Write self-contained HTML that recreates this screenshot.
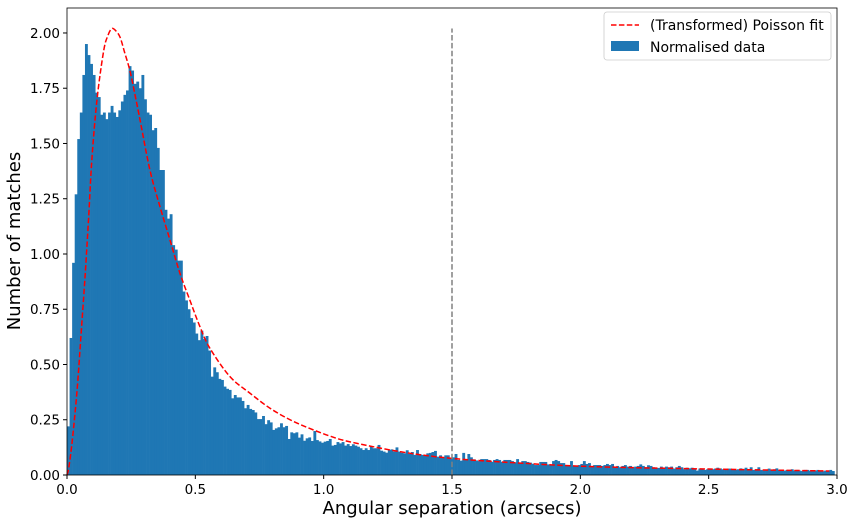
<!DOCTYPE html>
<html><head><meta charset="utf-8">
<style>
body{margin:0;background:#fff;}
svg text{font-family:"DejaVu Sans","Liberation Sans",sans-serif;fill:#000;}
</style></head>
<body>
<svg id="chart" width="856" height="525" xmlns="http://www.w3.org/2000/svg">
<g id="bars"></g>
<path id="fit" fill="none" stroke="#ff0000" stroke-width="1.5" stroke-dasharray="5.5,2.4"></path>
<line id="vline" stroke="#808080" stroke-width="1.5" stroke-dasharray="5.5,2.4"></line>
<rect x="67" y="8" width="770" height="467" fill="none" stroke="#000" stroke-width="0.8"></rect>
<g id="xticks"></g>
<g id="yticks"></g>
<text x="452" y="514" font-size="18" text-anchor="middle">Angular separation (arcsecs)</text>
<text transform="translate(20,241) rotate(-90)" font-size="18" text-anchor="middle">Number of matches</text>
<g>
<rect x="604" y="12" width="227" height="48" rx="3" fill="#fff" stroke="#ccc" stroke-width="0.8"></rect>
<line x1="611" y1="25" x2="639" y2="25" stroke="#ff0000" stroke-width="1.5" stroke-dasharray="5.5,2.4"></line>
<text x="650" y="30" font-size="14">(Transformed) Poisson fit</text>
<rect x="611" y="41" width="28" height="10" fill="#1f77b4"></rect>
<text x="650" y="52" font-size="14">Normalised data</text>
</g>
</svg>
<script>
const binWidth = 0.01;
const counts = [
0.22,0.62,0.96,1.27,1.52,1.64,1.81,1.95,1.90,1.86,1.81,1.73,1.71,1.63,1.64,1.61,1.64,1.67,1.64,1.62,
1.65,1.69,1.72,1.74,1.85,1.83,1.77,1.78,1.75,1.81,1.70,1.64,1.63,1.56,1.57,1.48,1.38,1.38,1.20,1.16,
1.18,1.04,1.02,0.97,0.97,0.83,0.79,0.75,0.71,0.69,0.64,0.61,
0.653,0.615,0.629,0.563,0.445,0.487,0.465,0.435,0.43,0.40,0.39,0.385,0.347,0.362,0.351,0.351,0.335,0.302,0.317,0.299,
0.294,0.283,0.253,0.253,0.267,0.230,0.248,0.238,0.204,0.211,0.216,0.234,0.216,0.222,0.163,0.193,0.189,0.193,0.169,0.184,
0.155,0.166,0.170,0.154,0.199,0.158,0.152,0.146,0.151,0.154,0.163,0.133,0.136,0.149,0.143,0.149,0.133,0.140,
0.131,0.139,0.133,0.128,0.121,0.113,0.121,0.113,0.131,0.121,0.121,0.136,0.110,0.106,0.101,0.113,0.116,0.106,0.125,0.106,
0.101,0.098,0.112,0.095,0.104,0.091,0.113,0.095,0.091,0.089,0.098,0.100,0.104,0.109,0.083,0.089,0.078,0.089,0.089,0.075,
0.080,0.095,0.068,0.065,0.100,0.068,0.095,0.080,0.071,0.066,0.063,0.072,0.072,0.072,0.068,0.060,0.068,0.072,0.068,0.060,
0.068,0.068,0.068,0.063,0.057,0.072,0.056,0.063,0.063,0.059,0.056,0.051,0.045,0.045,0.059,0.059,0.059,0.048,0.045,0.063,
0.068,0.063,0.054,0.054,0.045,0.041,0.063,0.041,0.041,0.045,0.050,0.063,0.050,0.054,0.041,0.045,0.045,
0.045,0.041,0.045,0.050,0.045,0.050,0.038,0.041,0.035,0.041,0.045,0.038,0.041,0.035,0.038,0.041,0.048,0.041,0.035,0.044,
0.041,0.035,0.030,0.032,0.038,0.030,0.038,0.035,0.038,0.029,0.035,0.041,0.035,0.026,0.033,0.030,0.033,0.026,0.020,0.029,
0.029,0.023,0.026,0.029,0.026,0.029,0.033,0.030,0.026,0.023,0.029,0.029,0.023,0.023,0.026,0.030,0.026,0.033,0.026,0.035,
0.023,0.026,0.035,0.023,0.020,0.023,0.029,0.023,0.026,0.030,0.023,0.023,0.020,0.023,0.020,0.026,0.020,0.023,0.020,0.018,
0.023,0.023,0.020,0.017,0.020,0.023,0.020,0.017,0.020,0.018,0.023,0.018
];
const fitX = [0,0.0065,0.02,0.039,0.055,0.071,0.085,0.097,0.117,0.143,0.16,0.175,0.19,0.207,0.225,0.245,0.265,0.284,0.323,0.362,0.401,0.440,0.479,0.518,0.557,0.635,0.713,0.791,0.869,0.947,1.025,1.103,1.3,1.5,1.75,2.045,2.5,2.97];
const fitY = [0,0.03,0.15,0.38,0.64,0.91,1.18,1.43,1.70,1.92,1.99,2.02,2.01,1.98,1.91,1.83,1.72,1.61,1.38,1.215,1.064,0.913,0.79,0.671,0.573,0.445,0.370,0.302,0.25,0.21,0.176,0.15,0.105,0.075,0.055,0.038,0.027,0.018];
const xTicks = [0,0.5,1.0,1.5,2.0,2.5,3.0];
const xTickLabels = ["0.0","0.5","1.0","1.5","2.0","2.5","3.0"];
const yTicks = [0,0.25,0.5,0.75,1.0,1.25,1.5,1.75,2.0];
const yTickLabels = ["0.00","0.25","0.50","0.75","1.00","1.25","1.50","1.75","2.00"];
const threshold = 1.5;
const thresholdTop = 2.02;

const NS = "http://www.w3.org/2000/svg";
const X0=67,X1=837,Y0=475,YT=8,XMAX=3.0,YMAX=2.113;
function sx(v){return X0+(v/XMAX)*(X1-X0);}
function sy(v){return Y0-(v/YMAX)*(Y0-YT);}

const bars=document.getElementById('bars');
counts.slice(0,300).forEach((c,i)=>{
  const r=document.createElementNS(NS,'rect');
  const xa=sx(i*binWidth), xb=sx((i+1)*binWidth);
  r.setAttribute('x',xa);r.setAttribute('width',xb-xa+0.3);
  r.setAttribute('y',sy(c));r.setAttribute('height',Y0-sy(c));
  r.setAttribute('fill','#1f77b4');
  
  
  bars.appendChild(r);
});
// smooth path (Catmull-Rom) through fit points
const P=fitX.map((x,i)=>[sx(x),sy(fitY[i])]);
let d='M'+P[0][0].toFixed(2)+','+P[0][1].toFixed(2);
for(let i=0;i<P.length-1;i++){
  const p0=P[Math.max(0,i-1)],p1=P[i],p2=P[i+1],p3=P[Math.min(P.length-1,i+2)];
  const c1=[p1[0]+(p2[0]-p0[0])/6,p1[1]+(p2[1]-p0[1])/6];
  const c2=[p2[0]-(p3[0]-p1[0])/6,p2[1]-(p3[1]-p1[1])/6];
  d+=' C'+c1[0].toFixed(2)+','+c1[1].toFixed(2)+' '+c2[0].toFixed(2)+','+c2[1].toFixed(2)+' '+p2[0].toFixed(2)+','+p2[1].toFixed(2);
}
document.getElementById('fit').setAttribute('d',d);
const vl=document.getElementById('vline');
vl.setAttribute('x1',sx(threshold));vl.setAttribute('x2',sx(threshold));
vl.setAttribute('y1',Y0);vl.setAttribute('y2',sy(thresholdTop));

const xg=document.getElementById('xticks');
xTicks.forEach((t,i)=>{
  const l=document.createElementNS(NS,'line');
  l.setAttribute('x1',sx(t));l.setAttribute('x2',sx(t));l.setAttribute('y1',Y0);l.setAttribute('y2',Y0+4);
  l.setAttribute('stroke','#000');
  
  
  xg.appendChild(l);
  const tx=document.createElementNS(NS,'text');
  tx.setAttribute('x',sx(t));tx.setAttribute('y',Y0+19);tx.setAttribute('font-size','13.5');tx.setAttribute('text-anchor','middle');
  tx.textContent=xTickLabels[i];
  
  
  xg.appendChild(tx);
});
const yg=document.getElementById('yticks');
yTicks.forEach((t,i)=>{
  const l=document.createElementNS(NS,'line');
  l.setAttribute('x1',X0-4);l.setAttribute('x2',X0);l.setAttribute('y1',sy(t));l.setAttribute('y2',sy(t));
  l.setAttribute('stroke','#000');
  
  
  yg.appendChild(l);
  const tx=document.createElementNS(NS,'text');
  tx.setAttribute('x',X0-7);tx.setAttribute('y',sy(t)+5);tx.setAttribute('font-size','13.5');tx.setAttribute('text-anchor','end');
  tx.textContent=yTickLabels[i];
  
  
  yg.appendChild(tx);
});
</script>
</body></html>
